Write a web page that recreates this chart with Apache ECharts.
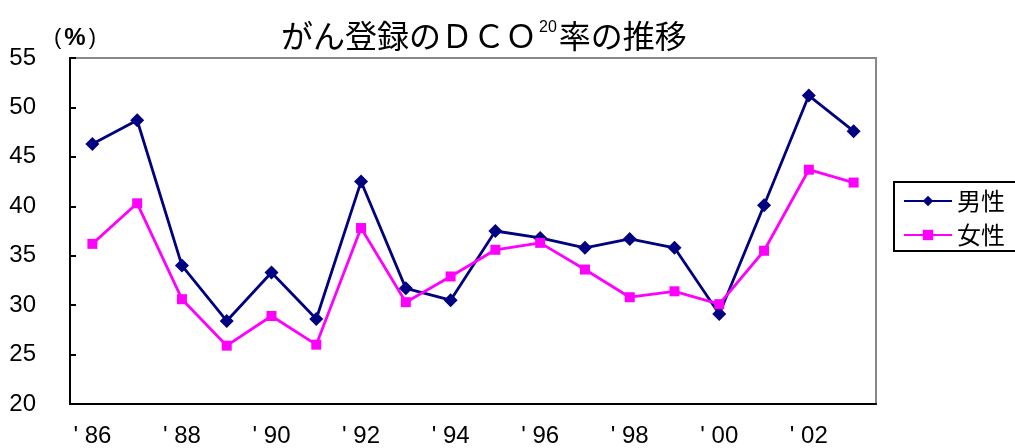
<!DOCTYPE html>
<html>
<head>
<meta charset="utf-8">
<script src="https://cdn.jsdelivr.net/npm/echarts@6/dist/echarts.min.js"></script>
<style>
  html, body { margin: 0; padding: 0; background: #fff; }
  #chart { width: 1015px; height: 448px; }
</style>
</head>
<body>
<div id="chart"></div>
<script>
// Years of registration, 1986–2003
const years = ["' 86", "' 87", "' 88", "' 89", "' 90", "' 91", "' 92", "' 93", "' 94",
               "' 95", "' 96", "' 97", "' 98", "' 99", "' 00", "' 01", "' 02", "' 03"];

// DCO rate (%) by sex
const male   = [46.3, 48.7, 34.0, 28.4, 33.3, 28.6, 42.5, 31.7, 30.5,
                37.5, 36.8, 35.8, 36.7, 35.8, 29.1, 40.1, 51.2, 47.6];
const female = [36.2, 40.3, 30.6, 25.9, 28.9, 26.0, 37.8, 30.3, 32.9,
                35.6, 36.3, 33.6, 30.8, 31.4, 30.1, 35.5, 43.7, 42.4];

const seriesNames = ['男性', '女性'];

const numFont = '"Liberation Sans", Arial, sans-serif';
const jpFont = '"Noto Sans CJK JP", sans-serif';

const chart = echarts.init(document.getElementById('chart'));
chart.setOption({
  backgroundColor: '#fff',
  animation: false,
  title: {
    text: '{a|がん登録のＤＣＯ}{s|20}{a|率の推移}',
    left: 276,
    top: 10,
    textStyle: {
      rich: {
        a: { fontFamily: jpFont, fontSize: 32, fontWeight: 'normal', color: '#000', lineHeight: 42 },
        s: { fontFamily: numFont, fontSize: 16, fontWeight: 'normal', color: '#000', padding: [0, 2, 16, 2], lineHeight: 42 }
      }
    }
  },
  graphic: [
    {
      type: 'text',
      left: 54,
      top: 26,
      style: {
        text: '{p|(}{q|%}{p|)}',
        rich: {
          p: { fontFamily: numFont, fontSize: 22, fill: '#000', padding: [0, 1, 0, 1] },
          q: { fontFamily: numFont, fontSize: 24, fontWeight: 'bold', fill: '#000', padding: [0, 2, 0, 2] }
        }
      }
    },
    {
      // legend frame, running off the right edge
      type: 'rect',
      shape: { x: 894, y: 182, width: 150, height: 69 },
      style: { fill: 'none', stroke: '#000', lineWidth: 2 },
      z: 10
    }
  ],
  legend: {
    orient: 'vertical',
    left: 893,
    top: 181,
    data: seriesNames,
    itemWidth: 48,
    itemHeight: 13,
    itemGap: 10,
    padding: [8, 10, 3, 10],
    textStyle: { fontFamily: jpFont, fontSize: 24, color: '#000' }
  },
  grid: {
    left: 70, right: 139, top: 58, bottom: 42,
    show: true,
    borderColor: '#888',
    borderWidth: 2
  },
  xAxis: {
    type: 'category',
    data: years,
    boundaryGap: true,
    axisLine: { lineStyle: { color: '#000', width: 2 } },
    axisTick: { inside: true, length: 6, interval: 0, lineStyle: { color: '#000', width: 2 } },
    axisLabel: {
      interval: 1,
      margin: 20,
      fontFamily: numFont,
      fontSize: 24,
      color: '#000'
    },
    splitLine: { show: false }
  },
  yAxis: {
    type: 'value',
    min: 20,
    max: 55,
    interval: 5,
    axisLine: { show: true, lineStyle: { color: '#000', width: 2 } },
    axisTick: { show: true, inside: true, length: 6, lineStyle: { color: '#000', width: 2 } },
    axisLabel: {
      margin: 34,
      fontFamily: numFont,
      fontSize: 24,
      color: '#000'
    },
    splitLine: { show: false }
  },
  series: [
    {
      name: seriesNames[0],
      type: 'line',
      data: male,
      symbol: 'diamond',
      symbolSize: 14,
      lineStyle: { color: '#000080', width: 2.8 },
      itemStyle: { color: '#000080' }
    },
    {
      name: seriesNames[1],
      type: 'line',
      data: female,
      symbol: 'rect',
      symbolSize: 10,
      lineStyle: { color: '#ff00ff', width: 2.8 },
      itemStyle: { color: '#ff00ff' }
    }
  ]
});
</script>
</body>
</html>
